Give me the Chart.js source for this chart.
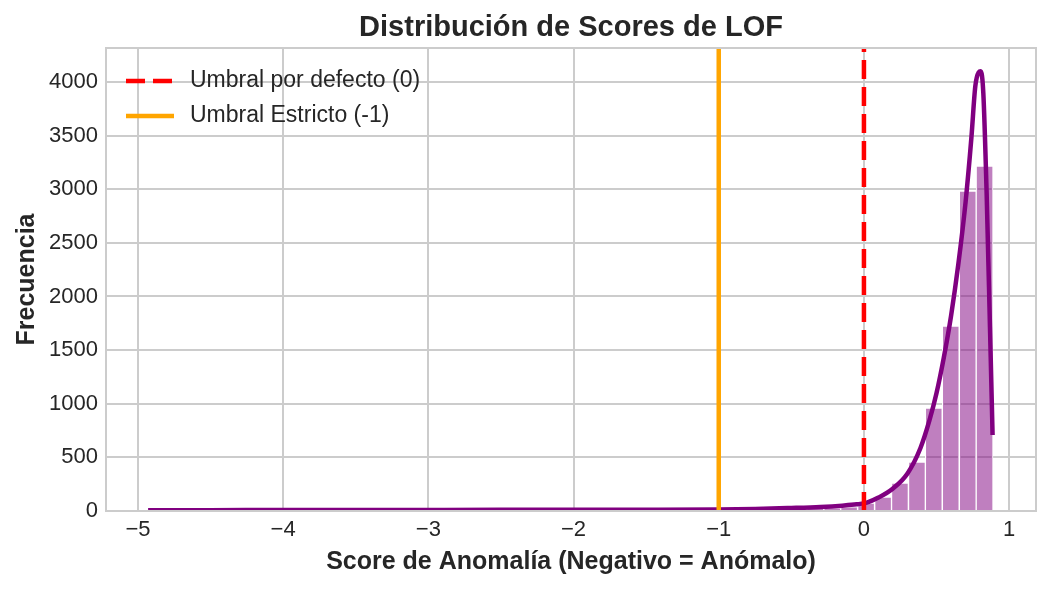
<!DOCTYPE html>
<html>
<head>
<meta charset="utf-8">
<script src="https://cdn.jsdelivr.net/npm/chart.js@4.4.1/dist/chart.umd.min.js"></script>
<style>
  body { margin: 0; background: #fff; }
  #wrap { width: 1050px; height: 589px; }
</style>
</head>
<body>
<div id="wrap"><canvas id="chart"></canvas></div>
<script>
// histogram bins (centres) and counts
const binCenters = [
  -4.882, -4.765, -4.649, -4.532, -4.416, -4.299, -4.183, -4.066, -3.949, -3.833,
  -3.716, -3.600, -3.483, -3.366, -3.250, -3.133, -3.017, -2.900, -2.783, -2.667,
  -2.550, -2.434, -2.317, -2.200, -2.084, -1.967, -1.851, -1.734, -1.617, -1.501,
  -1.384, -1.268, -1.151, -1.034, -0.918, -0.801, -0.685, -0.568, -0.451, -0.335,
  -0.218, -0.102, 0.015, 0.132, 0.248, 0.365, 0.481, 0.598, 0.715, 0.831
];
const binCounts = [
  2, 0, 1, 0, 0, 1, 0, 1, 0, 1,
  0, 1, 0, 2, 1, 0, 1, 2, 1, 1,
  2, 1, 2, 2, 1, 3, 2, 3, 3, 4,
  4, 5, 6, 7, 9, 11, 13, 17, 22, 28,
  25, 40, 75, 130, 261, 457, 960, 1725, 2984, 3217
];

// KDE curve (scaled to counts)
const kdeX = [-4.93, -4.5, -4.0, -3.5, -3.0, -2.5, -2.0, -1.5, -1.0, -0.75, -0.5, -0.3, -0.15, -0.05,
  0.02, 0.1, 0.2, 0.3, 0.39, 0.45, 0.5, 0.55, 0.6, 0.65, 0.7, 0.74, 0.767, 0.79, 0.804,
  0.822, 0.845, 0.868, 0.886];
const kdeY = [8, 8, 9, 9, 10, 11, 11, 12, 14, 18, 28, 38, 50, 62,
  78, 125, 210, 350, 590, 840, 1100, 1430, 1820, 2300, 2880, 3480, 3960, 4090, 4100,
  3900, 2965, 1715, 708];

// thresholds
const defaultThreshold = 0;
const strictThreshold = -1;

const xTicks = [-5, -4, -3, -2, -1, 0, 1];
const yTicks = [0, 500, 1000, 1500, 2000, 2500, 3000, 3500, 4000];
const xMin = -5.22, xMax = 1.185;
const yMax = 4317;

const textColor = '#262626';
const gridColor = '#cccccc';
const fontFamily = '"Liberation Sans", Arial, sans-serif';

const histData = binCenters.map((x, i) => ({ x: x, y: binCounts[i] }));
const kdeData = kdeX.map((x, i) => ({ x: x, y: kdeY[i] }));

// title centred on the plot area + legend inside it + frame
const extras = {
  id: 'extras',
  afterDraw(chart) {
    const ctx = chart.ctx;
    const a = chart.chartArea;
    ctx.save();
    ctx.strokeStyle = gridColor;
    ctx.lineWidth = 2;
    ctx.strokeRect(a.left, a.top, a.right - a.left, a.bottom - a.top);

    ctx.fillStyle = textColor;
    ctx.font = 'bold 29px ' + fontFamily;
    ctx.textAlign = 'center';
    ctx.textBaseline = 'middle';
    ctx.fillText('Distribución de Scores de LOF', (a.left + a.right) / 2, 28);

    // legend
    const items = [chart.data.datasets[3], chart.data.datasets[2]];
    ctx.font = '23px ' + fontFamily;
    ctx.textAlign = 'left';
    items.forEach((ds, i) => {
      const y = 81 + i * 35;
      ctx.strokeStyle = ds.borderColor;
      ctx.lineWidth = ds.borderWidth;
      ctx.setLineDash(ds.borderDash || []);
      ctx.beginPath();
      ctx.moveTo(126, y);
      ctx.lineTo(174, y);
      ctx.stroke();
      ctx.setLineDash([]);
      ctx.fillStyle = textColor;
      ctx.fillText(ds.label, 190, y);
    });
    ctx.restore();
  }
};

new Chart(document.getElementById('chart'), {
  type: 'bar',
  data: {
    datasets: [
      {
        type: 'bar',
        label: 'hist',
        data: histData,
        backgroundColor: 'rgba(128, 0, 128, 0.5)',
        borderColor: '#ffffff',
        borderWidth: 1,
        barPercentage: 1,
        categoryPercentage: 1,
        order: 3
      },
      {
        type: 'line',
        label: 'kde',
        data: kdeData,
        borderColor: '#800080',
        borderWidth: 4.5,
        pointRadius: 0,
        cubicInterpolationMode: 'monotone',
        order: 2
      },
      {
        type: 'line',
        label: 'Umbral Estricto (-1)',
        data: [{ x: strictThreshold, y: 0 }, { x: strictThreshold, y: yMax }],
        borderColor: '#ffa500',
        borderWidth: 4.5,
        pointRadius: 0,
        order: 1
      },
      {
        type: 'line',
        label: 'Umbral por defecto (0)',
        data: [{ x: defaultThreshold, y: 0 }, { x: defaultThreshold, y: yMax }],
        borderColor: '#ff0000',
        borderWidth: 4.5,
        borderDash: [19, 8],
        pointRadius: 0,
        order: 0
      }
    ]
  },
  options: {
    responsive: true,
    maintainAspectRatio: false,
    animation: false,
    layout: { padding: { top: 48, right: 14, bottom: 0, left: 0 } },
    plugins: {
      legend: { display: false },
      tooltip: { enabled: false }
    },
    scales: {
      x: {
        type: 'linear',
        min: xMin,
        max: xMax,
        offset: false,
        afterBuildTicks: (s) => { s.ticks = xTicks.map(v => ({ value: v })); },
        afterFit: (s) => { s.height = 78; s.paddingLeft = 0; s.paddingRight = 0; },
        grid: { color: gridColor, lineWidth: 2, drawTicks: false, offset: false },
        border: { display: false },
        ticks: {
          color: textColor,
          padding: 6,
          maxRotation: 0,
          font: { family: fontFamily, size: 22 },
          callback: (v) => (v < 0 ? '\u2212' + Math.abs(v) : String(v))
        },
        title: {
          display: true,
          text: 'Score de Anomalía (Negativo = Anómalo)',
          color: textColor,
          font: { family: fontFamily, size: 25, weight: 'bold' },
          padding: { top: 0, bottom: 12 }
        }
      },
      y: {
        min: 0,
        max: yMax,
        afterBuildTicks: (s) => { s.ticks = yTicks.map(v => ({ value: v })); },
        afterFit: (s) => { s.width = 106; },
        grid: { color: gridColor, lineWidth: 2, drawTicks: false },
        border: { display: false },
        ticks: {
          color: textColor,
          padding: 8,
          font: { family: fontFamily, size: 22 },
          callback: (v) => String(v)
        },
        title: {
          display: true,
          text: 'Frecuencia',
          color: textColor,
          font: { family: fontFamily, size: 25, weight: 'bold' },
          padding: { top: 12, bottom: 0 }
        }
      }
    }
  },
  plugins: [extras]
});
</script>
</body>
</html>
